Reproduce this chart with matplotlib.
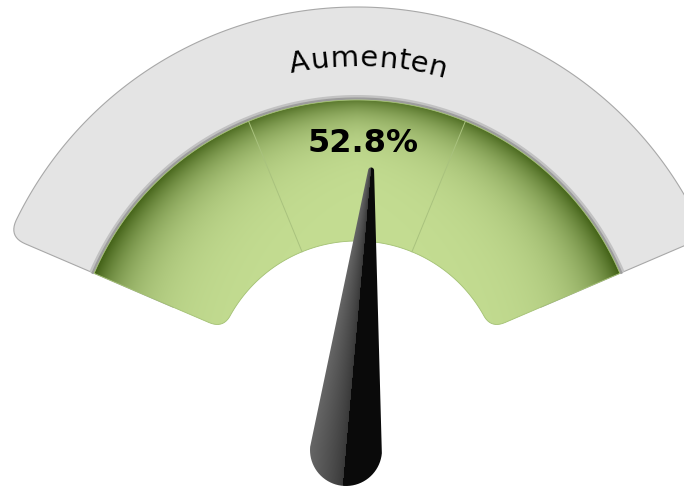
import numpy as np
import matplotlib
matplotlib.use('Agg')
import matplotlib.pyplot as plt
from matplotlib.patches import Polygon

# gauge data
value = 52.8
gauge_min, gauge_max = 0, 100
band_edges = [0, 100 / 3, 200 / 3, 100]
title = 'Aumenten'
value_label = f'{value:.1f}%'

# geometry (pixels, y downwards)
W, H = 684, 486
cx, cy = 357, 386
a_start, a_end = 156.8, 23.2
r_hole, r_face, r_rim = 145, 286, 379


def val_angle(v):
    return a_start - (v - gauge_min) / (gauge_max - gauge_min) * (a_start - a_end)


def pt(r, a):
    t = np.radians(a)
    return np.array([cx + r * np.cos(t), cy - r * np.sin(t)])


def arc(r, a0, a1, n=150):
    return [pt(r, a) for a in np.linspace(a0, a1, n)]


def curve(p0, p1, p2, n=12):
    s = np.linspace(0, 1, n)[:, None]
    return list((1 - s) ** 2 * p0 + 2 * (1 - s) * s * p1 + s ** 2 * p2)


def sector(r0, r1, a0, a1, rout=0, rin=0):
    do = np.degrees(rout / r1)
    di = np.degrees(rin / r0)
    pts = []
    pts += curve(pt(r1 - rout, a0), pt(r1, a0), pt(r1, a0 - do))
    pts += arc(r1, a0 - do, a1 + do)
    pts += curve(pt(r1, a1 + do), pt(r1, a1), pt(r1 - rout, a1))
    pts += curve(pt(r0 + rin, a1), pt(r0, a1), pt(r0, a1 + di))
    pts += arc(r0, a1 + di, a0 - di)
    pts += curve(pt(r0, a0 - di), pt(r0, a0), pt(r0 + rin, a0))
    return np.array(pts)


fig = plt.figure(figsize=(W / 100, H / 100), dpi=100)
ax = fig.add_axes([0, 0, 1, 1])

# grey rim
ax.add_patch(Polygon(sector(200, r_rim, a_start, a_end, rout=18), closed=True,
                     fc='#e4e4e4', ec='#a8a8a8', lw=0.8, zorder=1))
# shadow between rim and face
ax.add_patch(Polygon(sector(r_face - 2, r_face + 5, a_start, a_end), closed=True,
                     fc='#c2c2c2', ec='none', zorder=2))
ring = np.array(arc(r_face + 1.5, a_start, a_end))
ax.plot(ring[:, 0], ring[:, 1], color='#9c9c9c', lw=1.6, zorder=2)

# green face with shading towards the outer edge
face = Polygon(sector(r_hole, r_face, a_start, a_end, rin=16), closed=True,
               fc='none', ec='#a3c173', lw=0.6, zorder=4)
ax.add_patch(face)

yy, xx = np.mgrid[0:H, 0:W] + 0.5
rr = np.hypot(xx - cx, cy - yy)
th = np.arctan2(cy - yy, xx - cx)
side = np.abs(np.cos(th))
w = 20 + 18 * side
t = (0.8 + 0.2 * side) * np.exp(-np.clip(r_face - rr, 0, None) / w)
light = np.array([196, 221, 146]) / 255
dark = np.array([61, 92, 18]) / 255
img = light * (1 - t[..., None]) + dark * t[..., None]
im = ax.imshow(img, extent=(0, W, H, 0), zorder=3, interpolation='bilinear')
im.set_clip_path(face)

for b in band_edges[1:-1]:
    a = val_angle(b)
    p = np.array([pt(r_hole, a), pt(r_face, a)])
    ax.plot(p[:, 0], p[:, 1], color='#a9c27e', lw=0.7, zorder=4)

# needle: from the hub below the face to the value on the dial
hub = np.array([cx - 11, cy + 64])
tip = pt(216, val_angle(value))
L = np.hypot(*(tip - hub))
d = (tip - hub) / L
nv = np.array([d[1], -d[0]])   # left-hand normal on screen
w_tip, w_base = 3, 36


def half(u):
    return w_tip + (L - u) / L * (w_base - w_tip)


us = np.linspace(0, L, 60)
npts = [hub + u * d - half(u) * nv for u in us]
npts += [hub + (L + w_tip * np.cos(s)) * d + w_tip * np.sin(s) * nv
         for s in np.radians(np.linspace(-90, 90, 15))]
npts += [hub + u * d + half(u) * nv for u in us[::-1]]
npts += [hub + (w_base * np.cos(s)) * d + w_base * np.sin(s) * nv
         for s in np.radians(np.linspace(90, 270, 40))]
needle = Polygon(np.array(npts), closed=True, fc='none', ec='none', zorder=6)
ax.add_patch(needle)

uu = (xx - hub[0]) * d[0] + (yy - hub[1]) * d[1]
vv = (xx - hub[0]) * nv[0] + (yy - hub[1]) * nv[1]
q = np.clip(vv / half(np.clip(uu, 0, L)), -1, 1)
g = np.where(q > 0, 0.22 + 0.18 * np.clip(q, 0, 1) ** 0.8, 0.04)
nim = ax.imshow(np.dstack([g, g, g]), extent=(0, W, H, 0), zorder=6,
                interpolation='bilinear')
nim.set_clip_path(needle)

ax.set_xlim(0, W)
ax.set_ylim(H, 0)
ax.axis('off')

# curved title
title_fs = 21
renderer = fig.canvas.get_renderer()
widths = []
for ch in title:
    tt = ax.text(0, 0, ch, fontsize=title_fs)
    widths.append(tt.get_window_extent(renderer).width)
    tt.remove()
R_t, phi_c = 320, 88.0
total = sum(widths) * 1.03
cum = 0
for ch, wch in zip(title, widths):
    wch = wch * 1.03
    s = -total / 2 + cum + wch / 2
    a = phi_c - np.degrees(s / R_t)
    x, y = pt(R_t, a)
    ax.text(x, y, ch, rotation=a - 90, rotation_mode='anchor', ha='center',
            va='baseline', fontsize=title_fs, color='#000000', zorder=5)
    cum += wch

ax.text(363, 152, value_label, ha='center', va='baseline', fontsize=23,
        fontweight='bold', color='#000000', zorder=5)

fig.savefig('out.png', dpi=100)
